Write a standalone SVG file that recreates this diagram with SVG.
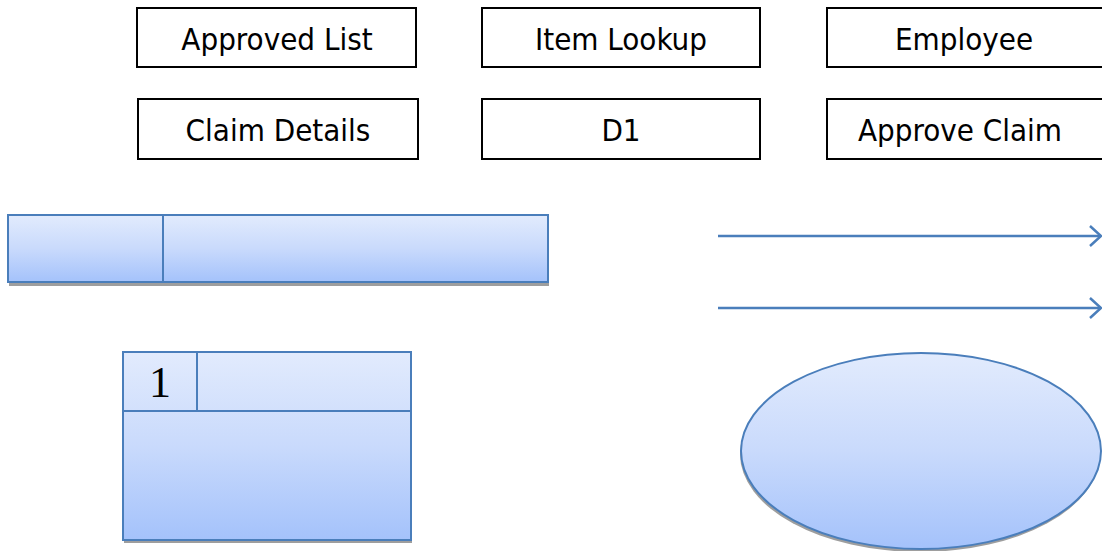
<svg xmlns="http://www.w3.org/2000/svg" width="1102" height="551" viewBox="0 0 1102 551">
<style>
.lbl{fill:#fff;stroke:#000;stroke-width:2}
.lt{font-family:"DejaVu Sans Condensed","DejaVu Sans",sans-serif;font-stretch:condensed;font-size:31px;fill:#000;text-anchor:middle}
.shape{fill:url(#g);stroke:#4a7ebb;stroke-width:2}
.shadow{fill:#9e9e9e}
.flow{stroke:#4a7ebb;stroke-width:2.5;fill:none;marker-end:url(#arr)}
</style>
<defs>
<linearGradient id="g" x1="0" y1="0" x2="0" y2="1">
<stop offset="0" stop-color="#e2ebfd"/>
<stop offset="0.5" stop-color="#c9dafc"/>
<stop offset="1" stop-color="#a4c2fb"/>
</linearGradient>
<marker id="arr" viewBox="0 0 14 22" refX="12" refY="11" markerWidth="14" markerHeight="22" markerUnits="userSpaceOnUse" orient="auto">
<path d="M1,1 L12,11 L1,21" fill="none" stroke="#4a7ebb" stroke-width="2.5"/>
</marker>
</defs>
<g id="approved-list"><rect class="lbl" x="137" y="8" width="279" height="59"/><text class="lt" x="277" y="50">Approved List</text></g>
<g id="item-lookup"><rect class="lbl" x="482" y="8" width="278" height="59"/><text class="lt" x="621" y="50">Item Lookup</text></g>
<g id="employee"><rect class="lbl" x="827" y="8" width="280" height="59"/><text class="lt" x="964" y="50">Employee</text></g>
<g id="claim-details"><rect class="lbl" x="138" y="99" width="280" height="60"/><text class="lt" x="278" y="141">Claim Details</text></g>
<g id="d1"><rect class="lbl" x="482" y="99" width="278" height="60"/><text class="lt" x="621" y="141">D1</text></g>
<g id="approve-claim"><rect class="lbl" x="827" y="99" width="280" height="60"/><text class="lt" x="960" y="141">Approve Claim</text></g>
<g id="data-store">
<rect class="shadow" x="9" y="218" width="540" height="68"/>
<rect class="shape" x="8" y="215" width="540" height="67"/>
<line x1="163" y1="215" x2="163" y2="282" stroke="#4a7ebb" stroke-width="2"/>
</g>
<g id="process">
<rect class="shadow" x="124" y="355" width="288" height="188"/>
<rect class="shape" x="123" y="352" width="288" height="188"/>
<line x1="123" y1="411" x2="411" y2="411" stroke="#4a7ebb" stroke-width="2"/>
<line x1="197" y1="352" x2="197" y2="411" stroke="#4a7ebb" stroke-width="2"/>
<text x="160" y="397" font-family="Liberation Serif,serif" font-size="44" text-anchor="middle" fill="#000">1</text>
</g>
<g id="external-entity">
<ellipse class="shadow" cx="920" cy="454" rx="180" ry="98"/>
<ellipse class="shape" cx="921" cy="451" rx="180" ry="98"/>
</g>
<g id="connectors">
<line class="flow" x1="718" y1="236" x2="1101" y2="236"/>
<line class="flow" x1="718" y1="308" x2="1101" y2="308"/>
</g>
</svg>
